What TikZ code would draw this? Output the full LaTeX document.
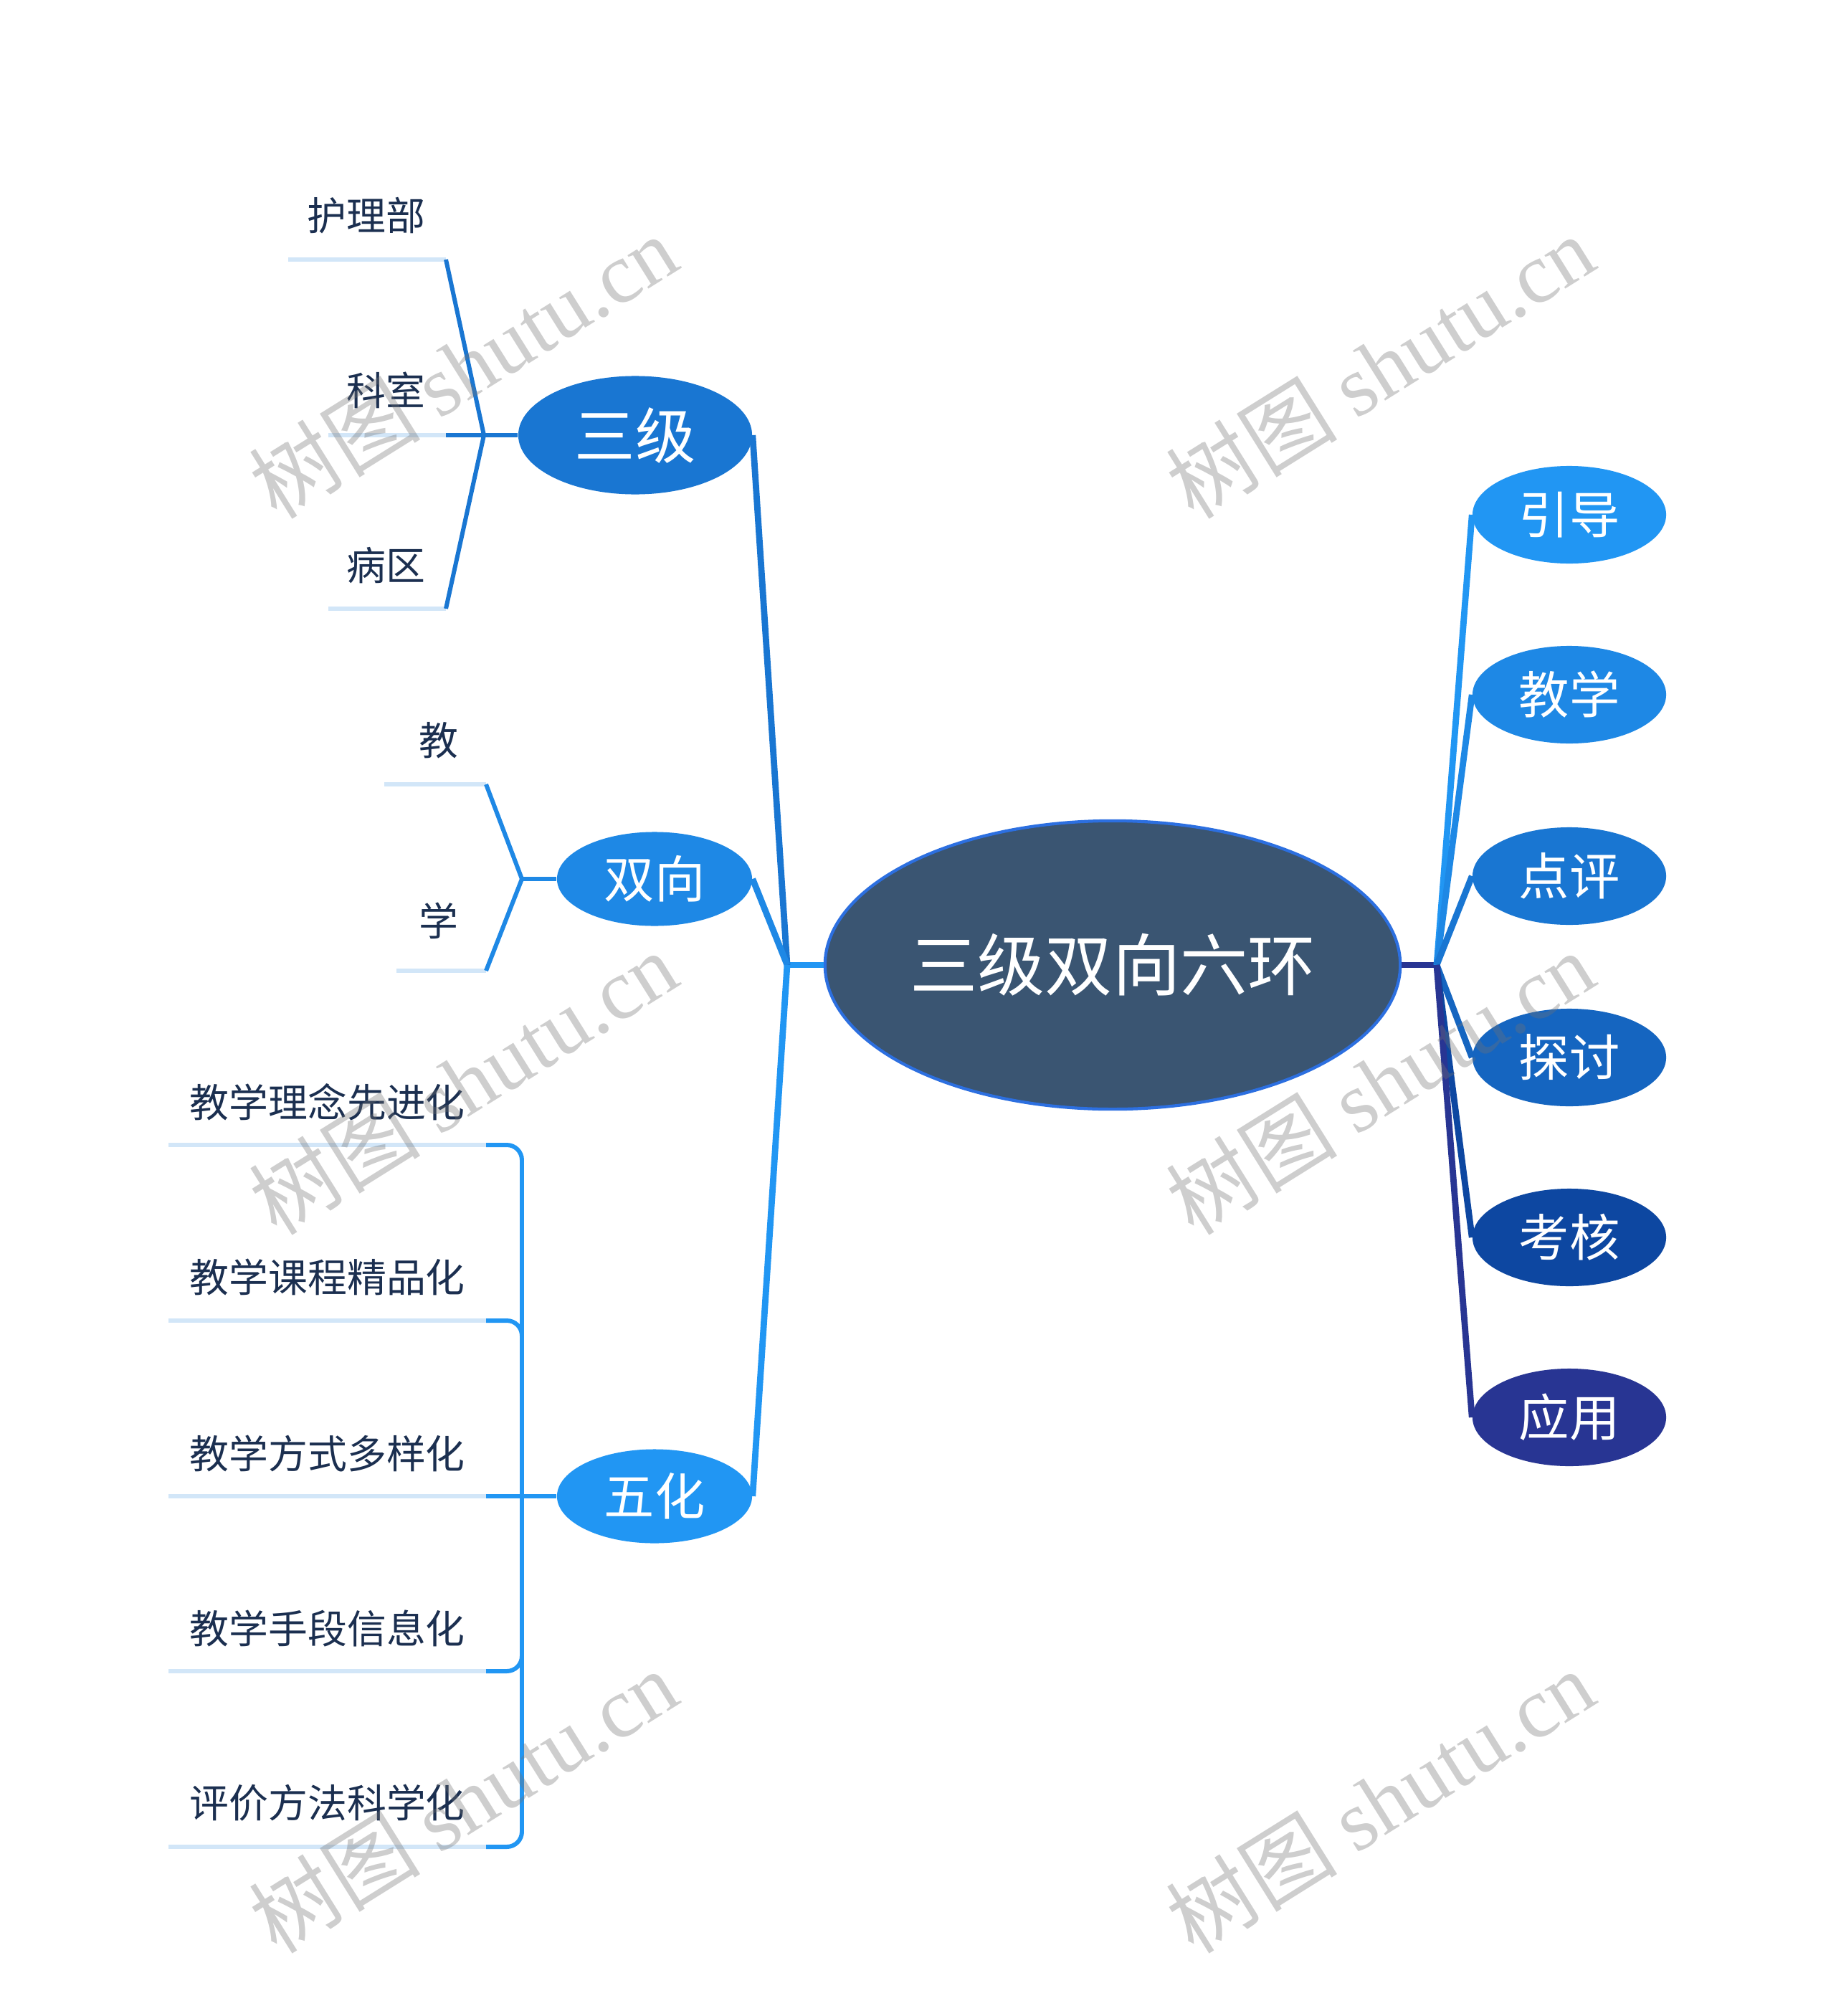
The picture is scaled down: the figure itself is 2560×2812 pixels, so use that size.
\documentclass[tikz,border=0pt]{standalone}
\usepackage{fontspec}
\setmainfont{Noto Sans CJK SC}
\newfontfamily\wmserif{Liberation Serif}
\usetikzlibrary{shapes.geometric}
\definecolor{centfill}{HTML}{3A5572}
\definecolor{centborder}{HTML}{2C6FE0}
\definecolor{cA}{HTML}{2196F3}
\definecolor{cB}{HTML}{1E88E5}
\definecolor{cC}{HTML}{1976D2}
\definecolor{cD}{HTML}{1565C0}
\definecolor{cE}{HTML}{0D47A1}
\definecolor{cF}{HTML}{283593}
\definecolor{uline}{HTML}{D2E6F8}
\definecolor{leaftext}{HTML}{1B2F50}
\tikzset{
  ell/.style={ellipse, inner sep=0pt, text=white},
  cent/.style={ell, fill=centfill, draw=centborder, line width=1.2pt,
    minimum width=8.02cm, minimum height=4.02cm, font=\fontsize{26.8}{30}\selectfont},
  bignode/.style={ell, minimum width=3.26cm, minimum height=1.65cm, font=\fontsize{24}{28}\selectfont},
  midnode/.style={ell, minimum width=2.72cm, minimum height=1.31cm, font=\fontsize{20}{24}\selectfont},
  rnode/.style={ell, minimum width=2.70cm, minimum height=1.36cm, font=\fontsize{20}{24}\selectfont},
  leaf/.style={text=leaftext, inner sep=0pt, font=\fontsize{15.6}{18}\selectfont},
  mainline/.style={line width=2.5pt},
  leafline/.style={line width=1.7pt},
  ul/.style={uline, line width=1.8pt},
  wmark/.style={rotate=32, text=black!55, opacity=0.35, font=\fontsize{34}{40}\selectfont}
}
\begin{document}
\begin{tikzpicture}[x=0.01cm,y=-0.01cm]
\fill[white] (0,0) rectangle (2560,2812);
\useasboundingbox (0,0) rectangle (2560,2812);

% central and first level nodes
\node[cent] (c) at (1552,1346) {三级双向六环};
\node[bignode, fill=cC] (sanji) at (886,607) {三级};
\node[midnode, fill=cB] (shuang) at (913,1226) {双向};
\node[midnode, fill=cA] (wuhua) at (913,2087) {五化};

\node[rnode, fill=cA] (r1) at (2189,718) {引导};
\node[rnode, fill=cB] (r2) at (2189,969) {教学};
\node[rnode, fill=cC] (r3) at (2189,1222) {点评};
\node[rnode, fill=cD] (r4) at (2189,1475) {探讨};
\node[rnode, fill=cE] (r5) at (2189,1726) {考核};
\node[rnode, fill=cF] (r6) at (2189,1977) {应用};

% junctions
\coordinate (lj) at (1098,1346);
\coordinate (rj) at (2004,1346);

% left trunk
\draw[cA, mainline] (c.west) -- (lj);
\draw[cC, mainline] (lj) -- (sanji.east);
\draw[cB, mainline] (lj) -- (shuang.east);
\draw[cA, mainline] (lj) -- (wuhua.east);

% right trunk
\draw[cF, mainline] (c.east) -- (rj);
\draw[cA, mainline] (rj) -- (r1.west);
\draw[cB, mainline] (rj) -- (r2.west);
\draw[cC, mainline] (rj) -- (r3.west);
\draw[cD, mainline] (rj) -- (r4.west);
\draw[cE, mainline] (rj) -- (r5.west);
\draw[cF, mainline] (rj) -- (r6.west);

% 三级 leaves
\node[leaf, anchor=east] (l1) at (594,301) {护理部};
\node[leaf, anchor=east] (l2) at (594,544) {科室};
\node[leaf, anchor=east] (l3) at (594,789) {病区};
\coordinate (u1) at (622,362);
\coordinate (u2) at (622,607);
\coordinate (u3) at (622,849);
\coordinate (sj) at (675,607);
\draw[ul] (u1) -- ++(-220,0);
\draw[ul] (u2) -- ++(-164,0);
\draw[ul] (u3) -- ++(-164,0);
\draw[cC, leafline] (sanji.west) -- (sj);
\draw[cC, leafline] (sj) -- (u1);
\draw[cC, leafline] (sj) -- (u2);
\draw[cC, leafline] (sj) -- (u3);

% 双向 leaves
\node[leaf] (l4) at (612,1033) {教};
\node[leaf] (l5) at (612,1284) {学};
\coordinate (u4) at (678,1094);
\coordinate (u5) at (678,1354);
\coordinate (dj) at (728,1226);
\draw[ul] (u4) -- ++(-142,0);
\draw[ul] (u5) -- ++(-125,0);
\draw[cB, leafline] (shuang.west) -- (dj);
\draw[cB, leafline] (dj) -- (u4);
\draw[cB, leafline] (dj) -- (u5);

% 五化 leaves
\node[leaf, anchor=west] (m1) at (264,1537) {教学理念先进化};
\node[leaf, anchor=west] (m2) at (264,1781) {教学课程精品化};
\node[leaf, anchor=west] (m3) at (264,2027) {教学方式多样化};
\node[leaf, anchor=west] (m4) at (264,2271) {教学手段信息化};
\node[leaf, anchor=west] (m5) at (264,2515) {评价方法科学化};
\coordinate (w1) at (678,1597);
\coordinate (w2) at (678,1842);
\coordinate (w3) at (678,2087);
\coordinate (w4) at (678,2331);
\coordinate (w5) at (678,2576);
\coordinate (wj) at (728,2087);
\foreach \p in {w1,w2,w3,w4,w5} {\draw[ul] (\p) -- ++(-443,0);}
\draw[cA, leafline] (wuhua.west) -- (w3);
\draw[cA, leafline, rounded corners=6pt] (wj) |- (w1);
\draw[cA, leafline, rounded corners=6pt] (wj) |- (w2);
\draw[cA, leafline, rounded corners=6pt] (wj) |- (w4);
\draw[cA, leafline, rounded corners=6pt] (wj) |- (w5);

% watermarks
\node[wmark] (wm1) at (646,511) {树图 {\wmserif shutu.cn}};
\node[wmark] (wm2) at (1925,511) {树图 {\wmserif shutu.cn}};
\node[wmark] (wm3) at (646,1510) {树图 {\wmserif shutu.cn}};
\node[wmark] (wm4) at (1925,1510) {树图 {\wmserif shutu.cn}};
\node[wmark] (wm5) at (646,2512) {树图 {\wmserif shutu.cn}};
\node[wmark] (wm6) at (1925,2512) {树图 {\wmserif shutu.cn}};
\end{tikzpicture}
\end{document}
